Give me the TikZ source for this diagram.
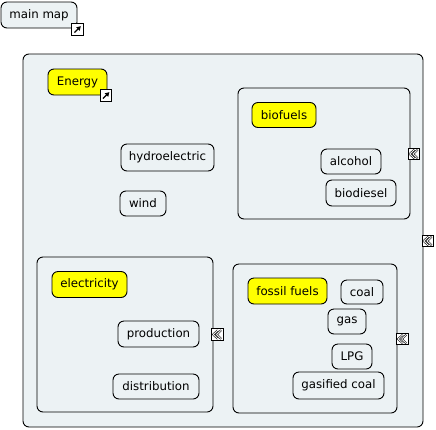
\documentclass[tikz,border=0pt]{standalone}
\usepackage{fontspec}
\setmainfont{DejaVu Sans}
\usetikzlibrary{arrows.meta}
\definecolor{paneC}{HTML}{ECF2F4}
\definecolor{keyY}{HTML}{FFFF00}
\newcommand{\vf}{\fontsize{11.8}{13}\selectfont}

\begin{document}
\begin{tikzpicture}[x=1pt,y=-1pt,every node/.style={inner sep=0pt,outer sep=0pt},
 grp/.style={draw,fill=paneC,rounded corners=6pt,line width=.9pt},
 concept/.style={grp,font=\vf},
 keyc/.style={concept,fill=keyY},
 icon/.style={draw,fill=white,line width=.8pt,minimum size=11.5pt},
 chev/.style={line width=.55pt,double=white,double distance=.8pt}]
\path[use as bounding box] (0,0) rectangle (436,429);
% ---------- small icons, shared
\newcommand{\linkicon}[2]{% #1 = name, #2 = position
 \node[icon] (#1) at #2 {};
 \draw[line width=1.3pt,-{Triangle[length=4pt,width=4.6pt]}] ([shift={(-3,3)}]#1.center) -- ([shift={(3.3,-3.3)}]#1.center);}
\newcommand{\foldicon}[2]{%
 \node[icon] (#1) at #2 {};
 \foreach \dx in {0,3.4}
  \draw[chev] ([shift={(\dx+.3,-4.3)}]#1.center) -- ([shift={(\dx-4.3,0)}]#1.center) -- ([shift={(\dx+.3,4.3)}]#1.center);}
% ---------- main map
\node[concept,minimum width=76,minimum height=26] (mainMap) at (39,15) {main map};
\linkicon{mainLink}{([shift={(0.5,1.5)}]mainMap.south east)}
% ---------- energy map frame
\node[grp,minimum width=400,minimum height=373] (energyMap) at (223,240.5) {};
\node[keyc,minimum width=59,minimum height=26] (energy) at (77.5,82) {Energy};
\node[concept,minimum width=93,minimum height=27] (hydro) at (167.5,157.5) {hydroelectric};
\node[concept,minimum width=46,minimum height=25] (wind) at (143,203.5) {wind};
% ---------- biofuels group
\node[grp,minimum width=172,minimum height=131] (bioGrp) at (324,153.5) {};
\node[keyc,minimum width=64,minimum height=25] (biofuels) at (284,115) {biofuels};
\node[concept,minimum width=60,minimum height=25] (alcohol) at (351,161.5) {alcohol};
\node[concept,minimum width=70,minimum height=26] (biodiesel) at (361,193) {biodiesel};
% ---------- electricity group
\node[grp,minimum width=176,minimum height=155] (elecGrp) at (125,334.5) {};
\node[keyc,minimum width=75,minimum height=26] (electricity) at (89.5,284.5) {electricity};
\node[concept,minimum width=81,minimum height=26] (production) at (158.5,334) {production};
\node[concept,minimum width=86,minimum height=25] (distribution) at (156,386.5) {distribution};
% ---------- fossil fuels group
\node[grp,minimum width=164,minimum height=149] (fossilGrp) at (315,338.5) {};
\node[keyc,minimum width=79,minimum height=26] (fossil) at (287.5,291) {fossil fuels};
\node[concept,minimum width=42,minimum height=24] (coal) at (362,292) {coal};
\node[concept,minimum width=38,minimum height=25] (gas) at (347,321.5) {gas};
\node[concept,minimum width=40,minimum height=25] (lpg) at (352,356.5) {LPG};
\node[concept,minimum width=91,minimum height=27] (gasCoal) at (338.5,385.5) {gasified coal};
% ---------- icons on top
\linkicon{energyLink}{([shift={(-1,0.5)}]energy.south east)}
\foldicon{bioFold}{([shift={(4,0.5)}]bioGrp.east)}
\foldicon{elecFold}{([shift={(4.5,0)}]elecGrp.east)}
\foldicon{fossilFold}{([shift={(5.5,0.5)}]fossilGrp.east)}
\foldicon{energyFold}{([shift={(5,0.5)}]energyMap.east)}
\end{tikzpicture}
\end{document}
